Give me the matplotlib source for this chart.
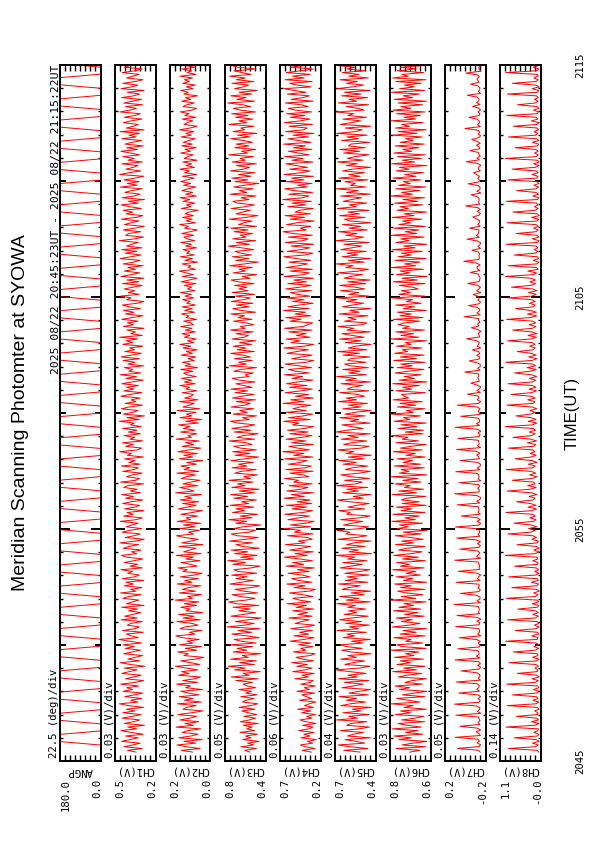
import numpy as np
import matplotlib
matplotlib.use("Agg")
import matplotlib.pyplot as plt

plt.rcParams['font.family'] = ['Liberation Sans', 'DejaVu Sans']
SMALL = dict(family=['DejaVu Sans Mono', 'DejaVu Sans'], fontsize=7.7)

# ---------------- data ----------------
title = "Meridian Scanning Photomter at SYOWA"
period_text = "2025 08/22 20:45:23UT - 2025 08/22 21:15:22UT"
time_ticklabels = ["2045", "2055", "2105", "2115"]
t_start_min = 23 / 60.0          # 20:45:23 in minutes after 20:45
t_end_min = 30 + 22 / 60.0       # 21:15:22

channels = ["ANGP", "CH1(V)", "CH2(V)", "CH3(V)", "CH4(V)", "CH5(V)", "CH6(V)", "CH7(V)", "CH8(V)"]
div_labels = ["22.5 (deg)/div", "0.03 (V)/div", "0.03 (V)/div", "0.05 (V)/div", "0.06 (V)/div",
              "0.04 (V)/div", "0.03 (V)/div", "0.05 (V)/div", "0.14 (V)/div"]
range_max = [180.0, 0.5, 0.2, 0.8, 0.7, 0.7, 0.8, 0.2, 1.1]
range_min = [0.0, 0.2, 0.0, 0.4, 0.2, 0.4, 0.6, -0.2, -0.0]
max_labels = ["180.0", "0.5", "0.2", "0.8", "0.7", "0.7", "0.8", "0.2", "1.1"]
min_labels = ["0.0", "0.2", "0.0", "0.4", "0.2", "0.4", "0.6", "-0.2", "-0.0"]

# scan angle (deg): dwell at horizon, fast sweep across
angp = [0,0,0,180,180,180,0,0,0,180,180,180,0,0,0,180,180,180,0,0,0,180,180,180,
        0,0,0,180,180,180,0,0,0,180,180,180,0,0,0,180,180,180,0,0,0,180,180,180,
        0,0,0,180,180,180,0,0,0,180,180,180,0,0,0,180,180,180,0,0,0,180,180,180,
        0,0,0,180,180,180,0,0,0,180,180,180,0,0,0,180,180,180,0,0,0,180,180,180,
        0,0,0,180,180,180,0,0,0,180,180,180,0,0,0,180,180,180,0,0,0,180,180,180,
        0,0,0,180,180,180,0,0,0,180,180,180,0,0,0,180,180,180,0,0,0,180,180,180,
        0,0,0,180,180,180,0,0,0,180,180,180,0,0,0,180,180,180,0,0,0,180,180,180,
        0,0,0,180,180,180,0,0,0,180,180,180,0,0,0,180,180,180,0,0,0,180,180,180,
        0,0,0,180,180,180]

# photometer channels (mV), earliest sample first
ch1 = [342,405,298,431,367,312,448,386,327,419,291,376,452,338,403,281,427,359,315,444,
       372,306,439,351,412,287,398,463,329,381,301,425,356,292,437,368,410,323,455,347,
       288,419,363,304,446,391,336,428,279,384,458,317,402,349,295,433,371,311,421,357,
       438,302,393,467,326,378,413,289,441,352,318,406,379,297,452,334,425,365,308,396,
       331,447,285,411,368,322,439,396,305,456,343,382,299,428,361,417,286,443,354,319,
       403,369,452,297,386,331,429,360,293,410,449,338,375,306,437,392,324,461,348,283,
       421,356,312,444,389,301,415,372,327,458,340,296,433,364,408,284,426,351,317,440,
       377,293,419,362,447,309,384,336,432,401,287,455,345,318,412,371,298,439,357,326,
       450,313,395,349,427,288,406,375,461,332,301,418,363,442,294,387,352,429,310,398,
       336,441,304,383,356,464,319,407,281,436,369,327,449,391,295,421,344,378,313,453,
       389,299,432,358,411,325,446,372,290,417,340,458,307,395,366,428,287,402,349,437,
       318,451,376,302,424,353,389,293,440,367,415,331,462,297,381,346,409,284,435,362,
       405,327,447,372,291,420,358,436,310,393,443,335,286,412,379,455,320,398,351,429,
       366,297,441,322,409,285,453,378,316,429,347,402,290,437,361,314,458,383,305,421,
       338,446,299,412,372,327,464,355,288,418,396,309,435,351,282,427,379,320,449,342,
       293,415,367,436,304,388,451,326,399,281,443,358,313,424,376,297,457,335,406,319,
       431,349,286,462,392,307,417,364,328,445,296,401,357,438,315,386,453,332,410,289,
       423,371,301,447,343,394,318,459,284,414,362,326,436,379,298,428,352,311,461,387,
       340,419,294,433,368,302,448,359,316,407,283,452,375,329,439,347,292,411,366,320,
       444,351,297,426,381,309,455,338,403,287]
ch2 = [88,142,51,117,163,72,129,40,155,96,61,138,112,47,168,83,124,58,149,101,
       66,159,93,37,134,117,70,161,45,127,85,152,56,109,144,39,121,97,165,63,
       136,78,49,157,104,141,62,118,171,53,95,146,74,33,130,108,160,67,123,44,
       151,86,115,55,139,169,76,102,42,148,125,61,92,163,50,133,81,156,38,119,
       99,145,68,128,57,172,87,111,43,153,73,137,106,48,162,90,126,59,147,79,
       41,135,114,158,65,97,143,52,120,84,167,46,131,103,71,154,36,140,94,60,
       127,166,82,107,54,150,75,132,47,161,98,119,63,144,89,39,157,113,70,136,
       58,148,91,125,44,170,80,109,150,62,134,96,51,142,118,73,164,57,129,101,
       145,69,116,37,153,87,130,64,159,105,48,139,82,122,55,168,93,110,66,147,
       76,132,100,156,59,121,43,149,90,117,71,163,52,135,104,80,151,61,126,95,
       84,138,66,120,102,149,75,128,92,141,70,115,131,86,146,63,124,98,137,79,
       109,72,143,88,118,65,134,96,150,81,113,69,127,101,140,74,122,91,145,83,
       97,131,68,119,105,142,78,126,89,139,73,116,100,136,82,124,94,147,76,112,
       92,128,71,143,104,66,137,85,119,152,74,110,96,139,63,125,88,147,79,116,
       101,134,68,121,93,145,77,112,130,82,141,99,64,127,108,150,73,118,90,136,
       83,124,106,61,142,95,117,76,133,102,148,69,121,87,139,110,72,131,97,144,
       115,80,137,67,126,103,149,78,119,92,135,65,128,111,84,146,98,123,70,140,
       89,132,107,75,143,94,120,81,151,100,66,129,113,86,138,72,125,105,147,91,
       68,134,116,79,141,97,122,63,130,108,145,85,118,74,136,102,127,88,149,71,
       114,93,139,76,124,104,132,83,145,99]
ch3 = [552,601,489,638,517,574,463,622,541,596,478,649,506,583,530,617,472,645,560,498,
       611,484,569,632,503,657,546,475,624,588,512,640,481,593,537,661,495,578,620,527,
       689,472,735,558,618,451,702,596,763,509,654,488,741,567,627,446,715,583,676,524,
       752,491,637,705,462,583,728,535,669,452,774,603,511,693,570,444,737,618,499,661,
       548,715,467,684,759,590,503,646,726,477,612,698,539,456,747,634,521,689,580,731,
       486,663,708,542,453,719,596,768,514,641,481,700,573,737,460,624,689,527,752,594,
       471,676,735,558,499,712,621,445,690,584,758,530,647,476,722,605,689,513,743,566,
       632,489,708,575,741,506,655,462,729,598,673,520,756,547,614,478,700,637,491,726,
       582,664,518,739,603,467,697,552,721,489,644,711,533,587,754,506,679,619,472,705,
       541,728,596,504,670,743,559,623,487,716,578,652,515,736,603,549,684,498,722,633,
       512,697,574,739,531,615,688,502,657,724,563,598,519,709,642,487,751,586,663,530,
       704,548,623,739,509,676,591,715,536,652,493,728,610,567,687,520,742,598,646,514,
       589,711,533,668,604,737,497,642,719,559,685,521,733,615,548,694,506,726,572,660,
       581,703,512,668,735,549,627,483,716,596,657,528,749,604,470,691,563,724,537,642,
       698,514,631,762,556,684,497,720,589,645,526,707,571,739,488,663,612,531,752,594,
       475,688,626,547,733,601,509,676,718,562,639,493,745,583,654,520,711,608,466,697,
       573,729,541,664,502,742,617,556,683,489,725,598,647,517,758,574,633,496,701,562,
       687,529,613,739,551,672,484,718,603,641,512,754,586,660,523,693,571,730,498,645,
       714,546,622,768,507,679,590,738,535,657,481,702,619,564,726,513,684,597,749,540,
       628,705,492,671,733,558,610,687,524,741]
ch4 = [312,421,267,389,445,296,358,251,437,329,402,278,466,341,293,418,255,382,449,304,
       367,262,431,318,478,285,396,340,257,455,309,372,426,271,488,336,398,263,441,322,
       289,512,347,426,275,538,391,303,489,361,552,284,420,497,326,267,531,378,442,295,
       468,318,571,402,279,524,345,455,298,563,386,271,509,429,337,586,302,474,359,541,
       283,497,372,604,318,455,536,292,418,578,341,263,523,387,612,306,469,551,328,421,
       594,337,482,276,619,405,538,298,453,641,362,509,287,576,431,324,628,392,471,301,
       357,603,289,518,446,652,319,567,384,278,597,462,335,634,413,296,549,371,618,309,
       486,326,643,398,557,285,611,439,354,584,302,527,469,636,341,412,573,291,622,387,
       312,589,446,363,637,295,528,404,661,334,479,586,288,553,376,619,427,306,574,351,
       602,389,284,541,463,648,329,592,412,297,617,375,536,449,318,657,402,563,286,505,
       347,629,438,301,578,366,614,482,293,547,419,640,336,506,592,309,461,633,371,284,
       551,423,302,607,489,348,645,397,283,562,451,618,327,493,376,586,305,639,414,356,
       296,573,437,624,318,509,382,651,340,597,465,289,538,402,613,331,486,567,309,624,
       452,314,598,371,527,286,643,409,335,571,298,619,462,358,584,317,502,647,389,294,
       606,437,331,559,283,628,416,349,592,301,537,655,372,446,318,613,489,276,569,395,
       632,324,508,453,289,601,378,547,311,659,421,342,586,297,524,638,364,479,305,617,
       402,553,287,644,436,328,577,359,495,621,293,548,412,636,339,463,591,306,529,384,
       651,318,472,597,345,535,282,624,408,362,583,299,641,446,327,567,391,612,308,505,
       592,353,436,628,291,559,414,337,604,377,521,645,313,487,576,302,633,398,541,326,
       618,443,289,563,381,647,329,512,596,357]
ch5 = [512,631,455,589,674,478,543,622,437,605,561,489,658,521,444,612,579,463,685,530,
       596,446,639,507,568,431,652,585,472,613,539,667,452,594,518,437,646,561,489,628,
       448,671,533,602,469,587,691,515,441,624,566,478,655,539,602,432,579,648,497,613,
       657,492,574,438,636,553,609,466,681,527,591,445,618,502,663,574,453,629,538,597,
       471,604,548,683,439,615,520,662,483,578,436,645,596,511,672,457,620,533,608,449,
       625,514,442,658,581,497,639,462,604,551,687,429,593,526,647,476,612,558,434,676,
       543,463,617,589,681,508,451,634,572,493,655,521,440,611,586,669,479,603,537,447,
       592,678,488,563,435,640,526,611,458,684,547,497,626,442,580,653,516,439,621,568,
       456,637,541,669,482,598,431,615,559,676,505,447,632,578,464,651,527,603,438,689,
       610,492,573,646,439,587,521,662,476,624,553,433,640,509,597,459,671,538,615,481,
       529,663,448,607,575,494,652,437,619,541,684,466,596,513,639,452,581,626,470,603,
       584,441,638,517,677,462,599,548,432,621,506,663,483,572,645,438,610,559,673,497,
       463,627,542,601,455,666,519,588,434,642,570,487,614,535,681,449,596,523,657,478,
       548,662,471,603,439,629,582,495,676,523,451,617,564,688,482,598,436,645,531,609,
       467,654,573,502,631,445,692,556,488,618,535,671,459,594,509,643,432,585,627,476,
       661,517,602,448,679,541,592,463,636,574,501,655,438,612,528,689,470,583,547,624,
       455,668,512,596,480,641,569,437,614,533,678,492,605,552,446,633,517,662,474,598,
       581,442,649,526,609,461,684,545,497,621,434,657,578,508,639,466,603,559,691,483,
       527,615,449,672,538,594,457,648,505,627,441,683,569,488,612,534,660,453,596,520,
       643,475,608,551,686,439,625,512,657,498]
ch6 = [702,651,768,624,739,686,617,754,693,779,638,722,661,787,645,713,758,629,741,675,
       633,771,698,746,620,729,684,791,652,708,765,627,737,679,619,752,701,773,640,724,
       689,619,757,714,643,784,668,731,626,763,697,748,634,776,681,722,656,793,621,739,
       764,638,721,695,778,626,749,670,734,618,786,704,652,742,689,767,631,726,661,781,
       647,755,683,729,622,791,672,743,637,718,760,628,746,694,775,619,732,685,768,649,
       720,671,784,631,748,703,765,624,737,659,779,693,641,756,716,628,771,682,741,636,
       697,772,645,733,617,762,709,751,639,789,674,725,655,783,627,744,691,766,622,738,
       654,741,718,623,787,668,755,634,727,699,772,646,735,661,794,618,752,705,743,630,
       776,648,734,687,763,625,719,674,781,641,747,696,622,769,658,738,710,789,636,723,
       634,758,666,744,621,777,701,732,649,790,684,717,627,761,673,749,640,782,707,728,
       741,625,769,692,736,655,784,617,753,679,728,646,773,706,632,762,688,745,626,779,
       668,747,631,775,711,738,643,766,696,723,619,792,657,744,682,770,629,736,704,758,
       726,653,781,637,749,694,762,621,733,678,770,645,718,687,788,628,755,699,742,660,
       689,752,627,781,664,739,618,766,701,748,635,790,672,727,651,774,622,759,693,742,
       640,785,675,731,619,768,706,745,631,792,668,723,656,779,626,754,697,737,643,787,
       681,728,620,763,709,749,637,775,662,734,629,794,688,741,652,770,623,756,699,732,
       647,783,671,726,634,767,704,752,618,789,677,738,644,761,625,779,692,735,657,773,
       630,748,684,722,641,786,666,757,621,771,703,740,636,793,673,729,649,765,627,782,
       696,744,639,758,619,776,687,733,654,790,628,751,679,727,645,769,622,784,708,739,
       633,762,670,746,624,788,695,731,658,774]
ch7 = [-148,-131,72,-139,-152,-118, -141,-125,95,-150,-136,-110, -153,-119,48,-144,-129,-147,
       -137,-133,88,-155,-121,-140, -146,-112,103,-138,-149,-127, -152,-128,61,-142,-115,-135,
       -139,-122,84,-151,-130,-145, -144,-117,39,-136,-153,-124, -150,-134,97,-147,-111,-138,
       -135,-126,70,-140,-148,-129, -149,-114,55,-154,-123,-141, -142,-131,91,-137,-145,-116,
       -155,-120,78,-143,-132,-139, -138,-127,107,-151,-118,-146, -147,-113,44,-136,-150,-125,
       -140,-135,86,-148,-122,-133, -153,-119,66,-141,-137,-144, -136,-128,99,-152,-114,-130,
       -145,-124,52,-139,-149,-121, -151,-111,81,-146,-127,-142, -139,-133,93,-134,-153,-117,
       -148,-120,35,-150,-126,-138, -134,-129,76,-143,-115,-147, -152,-116,101,-137,-140,-123,
       -143,-132,58,-155,-128,-136, -137,-122,89,-145,-119,-149, -150,-125,47,-140,-134,-114,
       -146,-113,82,-153,-121,-139, -135,-130,68,-138,-147,-126, -154,-118,94,-142,-112,-143,
       -141,-127,40,-149,-136,-131, -147,-121,74,-135,-152,-120,
       -138,-129,-24,-151,-117,-144, -152,-114,-57,-140,-133,-126, -136,-131,3,-147,-124,-150,
       -149,-120,-41,-137,-145,-115, -143,-135,-72,-153,-119,-132, -140,-111,-15,-144,-138,-128,
       -155,-126,-63,-136,-122,-147, -134,-132,8,-149,-116,-139, -146,-118,-36,-141,-151,-125,
       -139,-128,-80,-154,-113,-134, -151,-121,-27,-138,-143,-148, -137,-134,-52,-146,-120,-117,
       -148,-115,12,-135,-140,-136, -142,-130,-68,-152,-127,-145, -153,-123,-19,-139,-111,-131,
       -135,-136,-45,-148,-124,-142, -144,-112,-76,-137,-150,-119, -150,-127,-6,-143,-133,-137,
       -138,-119,-59,-155,-116,-146, -147,-133,-31,-136,-141,-124, -141,-114,-84,-150,-129,-135,
       -154,-125,-12,-140,-118,-149, -136,-131,-48,-145,-137,-113, -149,-117,-66,-134,-152,-130,
       -143,-128,1,-151,-122,-141, -139,-120,-38,-138,-146,-127, -152,-134,-74,-147,-112,-136,
       -137,-116,-22,-153,-131,-144, -145,-129,-55,-135,-125,-118, -140,-122,-9,-149,-143,-133,
       -155,-135,-61,-141,-119,-147]
ch8 = [48,92,861,137,60,214, 35,118,703,84,41,176, 71,54,928,152,39,240, 52,101,645,73,66,158,
       39,87,889,129,45,203, 64,112,752,96,33,187, 45,76,907,140,58,226, 30,99,618,81,70,149,
       57,124,846,107,42,211, 68,83,731,135,49,172, 41,110,936,92,63,234, 53,71,674,118,37,165,
       36,95,882,145,55,198, 62,128,609,87,44,221, 47,79,915,133,68,183, 33,104,768,99,51,241,
       59,88,853,126,40,156, 44,116,696,78,65,207, 70,93,941,141,38,179, 38,107,627,90,57,230,
       112,205,874,263,140,318, 95,246,712,188,121,287, 138,217,925,241,104,336, 120,268,640,199,147,302,
       101,231,893,275,118,345, 146,192,759,228,97,291, 127,254,917,206,139,324, 93,223,683,257,116,276,
       150,209,862,184,128,351, 108,262,735,238,143,298, 132,198,948,219,99,329, 119,247,656,271,135,284,
       98,226,901,193,150,340, 141,259,788,245,107,307, 125,214,866,208,131,293, 104,237,697,266,118,358,
       137,203,932,229,95,316, 116,251,621,196,142,289, 149,220,884,252,110,333, 96,243,745,214,126,301,
       129,207,909,277,101,348, 111,264,668,190,145,295, 143,229,855,236,117,321, 100,212,779,258,134,286,
       134,249,937,203,106,339,
       62,118,861,97,44,192, 49,85,707,134,69,168, 73,112,924,81,37,215, 40,96,652,126,58,183,
       57,121,893,103,46,237, 35,78,741,142,63,161, 66,105,912,88,41,204, 51,131,634,119,54,176,
       43,90,877,95,67,229, 69,114,763,137,38,188, 38,82,946,110,59,157, 60,127,681,85,48,219,
       47,99,859,130,71,171, 55,87,726,102,36,242, 72,120,903,91,52,185, 41,93,617,139,64,163,
       58,108,885,83,45,226, 36,125,754,121,61,178, 65,80,931,106,39,200, 50,115,692,93,56,167]

# ---------------- layout ----------------
W, H = 595, 842
fig = plt.figure(figsize=(W / 100, H / 100), dpi=100)
fig.patch.set_facecolor("white")

def fx(px):
    return px / W

def fy(py):
    return 1 - py / H

top_px, bot_px = 65, 761
pan_w = 41
lefts = [59.5 + 55 * i for i in range(9)]

series = [angp, ch1, ch2, ch3, ch4, ch5, ch6, ch7, ch8]

for i in range(9):
    L = lefts[i]
    ax = fig.add_axes([fx(L), fy(bot_px), fx(pan_w), (bot_px - top_px) / H])
    if i == 0:
        v = np.array(series[i], dtype=float)
    else:
        v = np.array(series[i]) / 1000.0
    t = np.linspace(t_start_min, t_end_min, len(v))
    ax.plot(v, t, color="#ff0000", lw=0.7, clip_on=True)
    ax.set_xlim(range_max[i], range_min[i])
    ax.set_ylim(0, 30)
    for s in ax.spines.values():
        s.set_linewidth(1.4)
    # value axis ticks (8 divisions)
    ax.set_xticks(np.linspace(range_max[i], range_min[i], 9)[1:-1])
    ax.tick_params(axis="x", which="major", direction="in", length=4, width=1.0,
                   top=True, bottom=True, labelbottom=False, labeltop=False)
    # time ticks
    ax.set_yticks(np.arange(0, 31, 5))
    ax.set_yticks(np.arange(0, 31, 1), minor=True)
    ax.tick_params(axis="y", which="major", direction="in", length=4, width=1.4,
                   left=True, right=True, labelleft=False, labelright=False)
    ax.tick_params(axis="y", which="minor", direction="in", length=2.2, width=1.0,
                   left=True, right=True)
    for k, tk in enumerate(ax.yaxis.get_major_ticks()):
        if k in (2, 4):
            tk.tick1line.set_markersize(7.5)
            tk.tick2line.set_markersize(7.5)
    # labels under panel
    fig.text(fx(L + 6), fy(779), max_labels[i], rotation=90, ha="center", va="top", **SMALL)
    fig.text(fx(L + pan_w - 3), fy(779), min_labels[i], rotation=90, ha="center", va="top", **SMALL)
    fig.text(fx(L + pan_w / 2), fy(771), channels[i], rotation=180, ha="center", va="center", **SMALL)
    # scale label left of panel
    fig.text(fx(L - 5), fy(758), div_labels[i], rotation=90, ha="center", va="bottom", **SMALL)

# time tick labels to the right of last panel
for k, lab in enumerate(time_ticklabels):
    ypx = bot_px - k * (bot_px - top_px) / 3
    fig.text(fx(580), fy(ypx), lab, rotation=90, ha="center", va="center", **SMALL)

fig.text(fx(56), fy(top_px), period_text, rotation=90, ha="center", va="top",
         family=['DejaVu Sans Mono', 'DejaVu Sans'], fontsize=8.2)
fig.text(fx(21), fy((top_px + bot_px) / 2), title, rotation=90, ha="center", va="center", fontsize=14)
fig.text(fx(572), fy((top_px + bot_px) / 2), "TIME(UT)", rotation=90, ha="center", va="center", fontsize=12)

fig.savefig("out.png", dpi=100, facecolor="white")
